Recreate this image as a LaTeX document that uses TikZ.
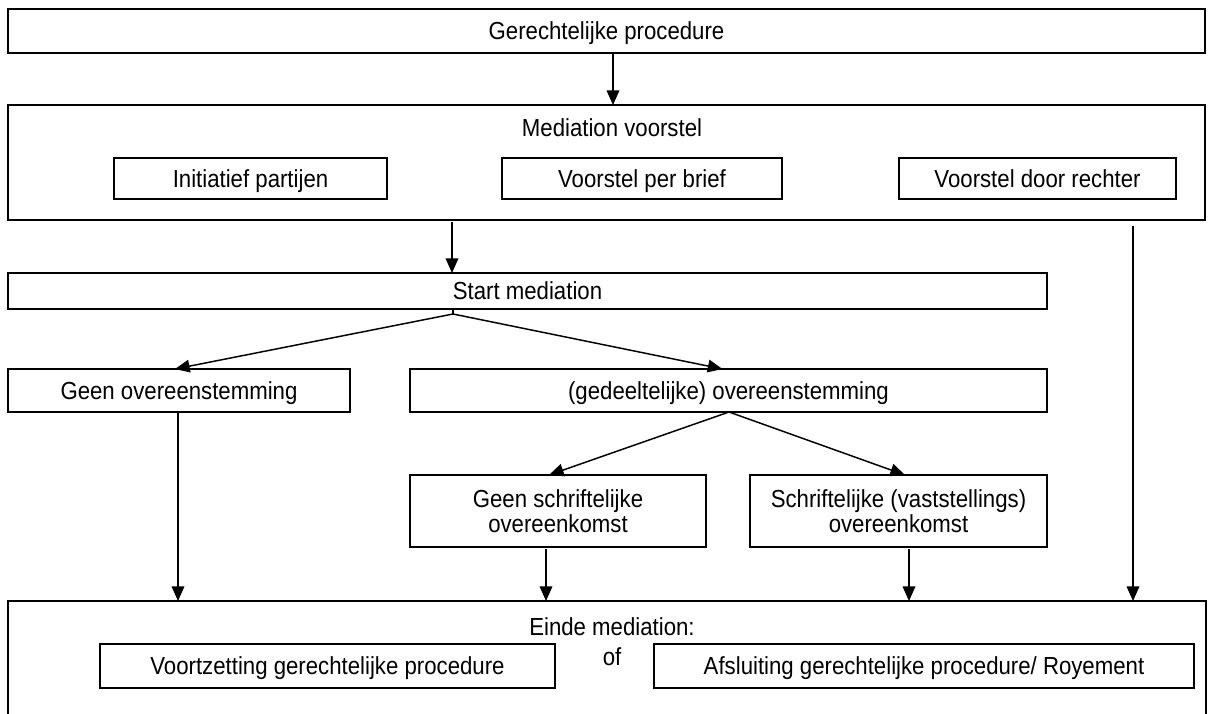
\documentclass[tikz,border=0pt]{standalone}
\usepackage{fontspec}
\setmainfont[FakeStretch=0.9]{Liberation Sans}
\usetikzlibrary{positioning, arrows.meta}

\tikzset{
  box/.style={draw, line width=1.1pt, inner sep=0pt, outer sep=0pt, align=center},
  one/.style={text height=17pt, text depth=4pt},
  lbl/.style={inner sep=0pt, align=center},
  arr/.style={-{Triangle[length=11pt,width=9.5pt]}, line width=1.1pt},
  ln/.style={line width=1.1pt}
}

\begin{document}
\begin{tikzpicture}[x=0.75pt, y=-0.75pt, font=\fontsize{18.5pt}{19pt}\selectfont]
\clip (0,0) rectangle (1212,713);
\fill[white] (0,0) rectangle (1212,713);

% top
\node[box, one, minimum width=897.75pt, minimum height=33pt] (gp) at (606.5,31) {Gerechtelijke procedure};

% voorstel
\node[box, minimum width=897.75pt, minimum height=86.25pt] (mv) at (606.5,162.5) {};
\node[lbl, one] (mvtitle) at (612,128) {Mediation voorstel};
\node[box, one, minimum width=204.75pt, minimum height=30.75pt] (ip) at (250.5,178.5) {Initiatief partijen};
\node[box, one, minimum width=210pt, minimum height=30.75pt] (vb) at (642,178.5) {Voorstel per brief};
\node[box, one, minimum width=207.75pt, minimum height=30.75pt] (vr) at (1037.5,178.5) {Voorstel door rechter};

% mediation
\node[box, one, minimum width=779.25pt, minimum height=27pt] (sm) at (527.5,291) {Start mediation};
\node[box, one, minimum width=256.5pt, minimum height=32.25pt] (go) at (179,390.5) {Geen overeenstemming};
\node[box, one, minimum width=477.75pt, minimum height=32.25pt] (do) at (728.5,390.5) {(gedeeltelijke) overeenstemming};
\node[box, minimum width=222pt, minimum height=54pt] (gs) at (558,511) {Geen schriftelijke\\overeenkomst};
\node[box, minimum width=222.75pt, minimum height=54pt] (so) at (898.5,511) {Schriftelijke (vaststellings)\\overeenkomst};

% einde
\node[box, minimum width=898.5pt, minimum height=96.75pt] (em) at (607,665.5) {};
\node[lbl, one] (emtitle) at (612,627) {Einde mediation:};
\node[box, one, minimum width=341.25pt, minimum height=33pt] (vg) at (327.5,666) {Voortzetting gerechtelijke procedure};
\node[lbl] (of) at (612,657) {of};
\node[box, one, minimum width=405pt, minimum height=33pt] (ag) at (924,666) {Afsluiting gerechtelijke procedure/ Royement};

% x positions of the arrows
\coordinate (xa) at (613,0);
\coordinate (xb) at (452,0);
\coordinate (xc) at (1133,0);
\coordinate (xd) at (178,0);
\coordinate (xe) at (546,0);
\coordinate (xf) at (909,0);
\coordinate (split1) at (453,314);
\coordinate (split2) at (729,412);

\draw[arr] (xa |- gp.south) -- (xa |- mv.north);
\draw[arr, shorten <=1.5pt] (xb |- mv.south) -- (xb |- sm.north);
\draw[arr, shorten <=4.5pt] (xc |- mv.south) -- (xc |- em.north);

\draw[ln] (sm.south -| split1) -- (split1);
\draw[arr] (split1) -- ([xshift=-3pt]go.north);
\draw[arr] (split1) -- ([xshift=-4.5pt]do.north);
\draw[arr] (split2) -- ([xshift=-6.75pt]gs.north);
\draw[arr] (split2) -- ([xshift=4.875pt]so.north);

\draw[arr] (xd |- go.south) -- (xd |- em.north);
\draw[arr, shorten <=1.5pt] (xe |- gs.south) -- (xe |- em.north);
\draw[arr, shorten <=1.5pt] (xf |- so.south) -- (xf |- em.north);
\end{tikzpicture}
\end{document}
